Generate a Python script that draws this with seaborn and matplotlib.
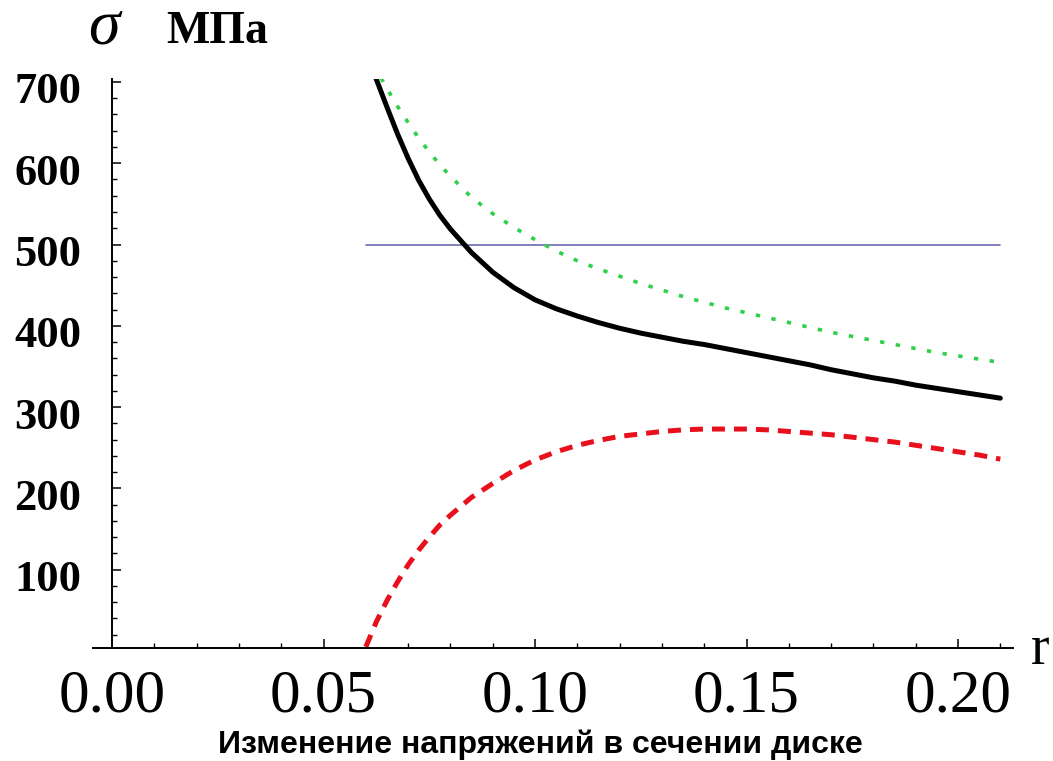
import matplotlib
matplotlib.use("Agg")
import matplotlib.pyplot as plt
import matplotlib.transforms as mtransforms
from matplotlib.ticker import MultipleLocator, FormatStrFormatter
import seaborn as sns
import pandas as pd

# radius, m (denser near the bore where the stresses change fast)
r = [0.0600, 0.0625, 0.0650, 0.0675, 0.0700, 0.0725, 0.0750, 0.0775,
     0.080, 0.085, 0.090, 0.095, 0.100, 0.105, 0.110, 0.115, 0.120,
     0.125, 0.130, 0.135, 0.140, 0.145, 0.150, 0.155, 0.160, 0.165,
     0.170, 0.175, 0.180, 0.185, 0.190, 0.195, 0.200, 0.205, 0.210]

# equivalent stress, MPa
sigma_eq = [739, 703, 669, 636, 606, 579, 556, 536,
            519, 490, 466, 447, 432, 421, 412, 404, 397,
            391, 386, 381, 377, 372, 367, 362, 357, 352,
            346, 341, 336, 332, 327, 323, 319, 315, 311]

# hoop stress, MPa
sigma_t = [739, 715, 692, 670, 650, 631, 614, 598,
           584, 558, 538, 521, 506, 492, 480, 470, 461,
           452, 444, 436, 429, 422, 416, 410, 404, 398,
           392, 387, 382, 377, 372, 367, 363, 359, 355]

# radial stress, MPa
sigma_r = [5, 36, 62, 85, 106, 124, 140, 155,
           167, 189, 206, 222, 235, 245, 253, 259, 264,
           267, 270, 272, 273, 273, 273, 272, 270, 268,
           266, 263, 260, 257, 253, 249, 245, 241, 236]

# allowable stress level, MPa
limit_r = [0.060, 0.210]
limit_val = [500, 500]

df = pd.DataFrame({"r": r, "eq": sigma_eq, "t": sigma_t, "rad": sigma_r})
df_lim = pd.DataFrame({"r": limit_r, "v": limit_val})

sns.set_style("white")
plt.rcParams["font.family"] = ["Liberation Serif", "DejaVu Serif"]
plt.rcParams["text.color"] = "black"
plt.rcParams["xtick.color"] = "black"
plt.rcParams["ytick.color"] = "black"

W, H = 1053, 761
fig = plt.figure(figsize=(W / 100, H / 100), dpi=100)
ax = fig.add_axes([93 / W, 1 - 647.7 / H, (1013 - 93) / W, (647.7 - 78.7) / H])

sns.lineplot(data=df_lim, x="r", y="v", ax=ax, color="#6b6bb0", lw=1.2)
sns.lineplot(data=df, x="r", y="t", ax=ax, color="#2fd04a", lw=2.6,
             linestyle=(0, (1.2, 3.2)))
sns.lineplot(data=df, x="r", y="eq", ax=ax, color="black", lw=3.6)
sns.lineplot(data=df, x="r", y="rad", ax=ax, color="#e8101c", lw=3.6,
             linestyle=(0, (2.6, 1.8)))

ax.set_xlim(-0.0045, 0.213)
ax.set_ylim(4, 704)

for s in ("top", "right"):
    ax.spines[s].set_visible(False)
ax.spines["left"].set_position(("data", 0))
for s in ("left", "bottom"):
    ax.spines[s].set_linewidth(1.4)
    ax.spines[s].set_color("black")

ax.xaxis.set_major_locator(MultipleLocator(0.05))
ax.xaxis.set_minor_locator(MultipleLocator(0.01))
ax.xaxis.set_major_formatter(FormatStrFormatter("%.2f"))
ax.yaxis.set_major_locator(MultipleLocator(100))
ax.yaxis.set_minor_locator(MultipleLocator(20))

ax.tick_params(axis="both", which="both", direction="in", color="black",
               bottom=True, left=True, top=False, right=False)
ax.tick_params(axis="both", which="major", length=6.5, width=1.1)
ax.tick_params(axis="both", which="minor", length=3.8, width=1.0)
ax.tick_params(axis="x", which="major", labelsize=44, pad=15)
ax.tick_params(axis="y", which="major", labelsize=32, pad=22)

# y labels sit a little below their ticks
shift = mtransforms.ScaledTranslation(0, -6 / 100, fig.dpi_scale_trans)
for lab in ax.get_yticklabels():
    lab.set_fontweight("bold")
    lab.set_transform(lab.get_transform() + shift)

ax.set_xlabel("")
ax.set_ylabel("")

fig.text(88 / W, 1 - 43 / H, "σ", fontsize=46, style="italic",
         ha="left", va="baseline")
fig.text(166 / W, 1 - 43 / H, "МПа", fontsize=33, fontweight="bold",
         ha="left", va="baseline")
fig.text(1031 / W, 1 - 650 / H, "r", fontsize=40, ha="left", va="center")
fig.text(540 / W, 1 - 745 / H, "Изменение напряжений в сечении диске",
         fontsize=23, fontweight="bold", family=["Liberation Sans", "DejaVu Sans"],
         ha="center", va="center")

fig.savefig("out.png", dpi=100, facecolor="white")
